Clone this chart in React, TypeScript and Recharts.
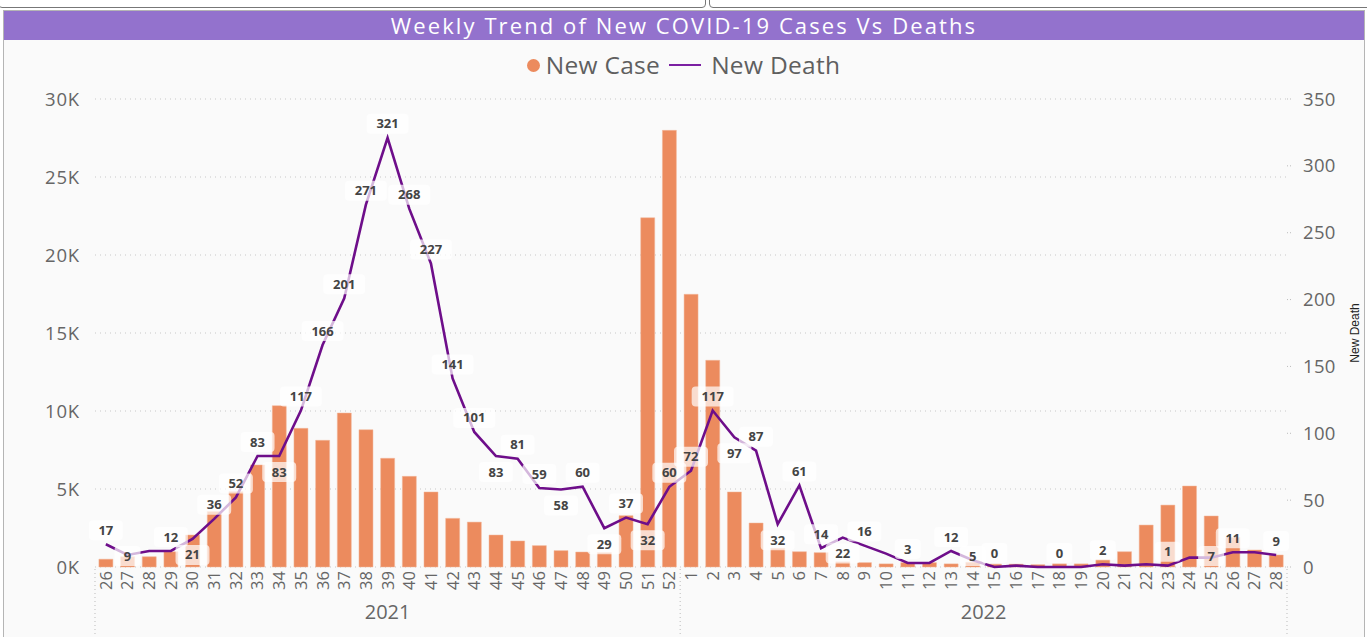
import React from "react";
import { ComposedChart, Bar, Line, XAxis, YAxis, CartesianGrid, LabelList } from "recharts";

const weeks2021 = ["26", "27", "28", "29", "30", "31", "32", "33", "34", "35", "36", "37", "38", "39", "40", "41", "42", "43", "44", "45", "46", "47", "48", "49", "50", "51", "52"];
const weeks2022 = ["1", "2", "3", "4", "5", "6", "7", "8", "9", "10", "11", "12", "13", "14", "15", "16", "17", "18", "19", "20", "21", "22", "23", "24", "25", "26", "27", "28"];

const newCase2021 = [500, 660, 660, 980, 2050, 3550, 4830, 6540, 10340, 8890, 8120, 9870, 8800, 6970, 5810, 4810, 3120, 2880, 2050, 1670, 1370, 1050, 960, 920, 3290, 22390, 27990];
const newCase2022 = [17480, 13250, 4810, 2820, 1200, 980, 920, 330, 280, 200, 280, 280, 200, 300, 180, 180, 150, 200, 200, 470, 980, 2690, 3970, 5190, 3270, 1900, 1090, 770];

const newDeath2021 = [17, 9, 12, 12, 21, 36, 52, 83, 83, 117, 166, 201, 271, 321, 268, 227, 141, 101, 83, 81, 59, 58, 60, 29, 37, 32, 60];
const newDeath2022 = [72, 117, 97, 87, 32, 61, 14, 22, 16, 10, 3, 3, 12, 5, 0, 1, 0, 0, 0, 2, 1, 2, 1, 7, 7, 11, 11, 9];

// where Power BI put each death label: a = above, b = below, n = hidden
const deathLabelSide2021 = "abnabaaabaaaaaaaaabaabababa";
const deathLabelSide2022 = "aababaabananabannanannanbana";

const caseTicks = [0, 5000, 10000, 15000, 20000, 25000, 30000];
const deathTicks = [0, 50, 100, 150, 200, 250, 300, 350];

const data = [
  ...weeks2021.map((w, i) => ({ key: `2021-${w}`, week: w, year: "2021", newCase: newCase2021[i], newDeath: newDeath2021[i] })),
  ...weeks2022.map((w, i) => ({ key: `2022-${w}`, week: w, year: "2022", newCase: newCase2022[i], newDeath: newDeath2022[i] })),
];
const labelSide = (deathLabelSide2021 + deathLabelSide2022).split("");

const W = 1367;
const H = 637;
const M = { top: 99, right: 20, left: 35, bottom: 0 };
const AXIS_W = 60;
const X_AXIS_H = 36 + 34;
const PLOT_BOTTOM = H - M.bottom - X_AXIS_H;
const BAND = (W - M.left - M.right - AXIS_W * 2) / data.length;

const FONT = "'Open Sans', 'Noto Sans', sans-serif";
const GREY = "#666";

const WeekTick = (props: any) => {
  const { x, y, payload } = props;
  const label = data[payload.index]?.week ?? "";
  return (
    <text x={x} y={y - 4} transform={`rotate(-90 ${x} ${y - 4})`} textAnchor="end" dy="0.36em" fontSize={16.5} fill={GREY} fontFamily={FONT}>
      {label}
    </text>
  );
};

const YearTick = (props: any) => {
  const { x, y, payload } = props;
  const i = payload.index;
  const yr = data[i].year;
  const first = data.findIndex((d) => d.year === yr);
  const count = data.filter((d) => d.year === yr).length;
  const parts: React.ReactNode[] = [];
  if (i === first) {
    parts.push(<line key="l" x1={x - BAND / 2} x2={x - BAND / 2} y1={y - 42} y2={y + 30} stroke="#bbb" strokeDasharray="1 3" />);
    parts.push(
      <text key="t" x={x + ((count - 1) / 2) * BAND} y={y + 1} textAnchor="middle" dy="0.35em" fontSize={20} fill={GREY} fontFamily={FONT}>
        {yr}
      </text>
    );
  }
  if (i === data.length - 1) {
    parts.push(<line key="r" x1={x + BAND / 2} x2={x + BAND / 2} y1={y - 42} y2={y + 30} stroke="#bbb" strokeDasharray="1 3" />);
  }
  return <g>{parts}</g>;
};

const DeathLabel = (props: any) => {
  const { x, y, value, index } = props;
  const side = labelSide[index];
  if (side === "n" || x == null) return null;
  const txt = String(value);
  const cy = side === "a" ? y - 14 : Math.min(y + 16, PLOT_BOTTOM - 11);
  const w = txt.length * 8 + 18;
  return (
    <g>
      <rect x={x - w / 2} y={cy - 10} width={w} height={20} rx={4} fill="#fff" fillOpacity={0.7} />
      <text x={x} y={cy} textAnchor="middle" dy="0.35em" fontSize={13} fontWeight={700} fill="#444" fontFamily={FONT}>
        {txt}
      </text>
    </g>
  );
};

const DeathAxisLabel = (props: any) => {
  const vb = props.viewBox || {};
  const x = vb.x + vb.width + 8;
  const y = vb.y + vb.height / 2;
  return (
    <text x={x} y={y} transform={`rotate(-90 ${x} ${y})`} textAnchor="middle" dy="0.35em" fontSize={12} fill="#222" fontFamily="'Liberation Sans', Arial, sans-serif">
      New Death
    </text>
  );
};

export default function App() {
  return (
    <div style={{ position: "absolute", left: 0, top: 0, width: W, height: H, overflow: "hidden", background: "#fff", fontFamily: FONT }}>
      <div style={{ position: "absolute", left: -2, top: -6, width: 706, height: 12, border: "1px solid #777", borderRadius: 4, background: "#fff" }} />
      <div style={{ position: "absolute", left: 709, top: -6, width: 662, height: 12, border: "1px solid #777", borderRadius: 4, background: "#fff" }} />
      <div style={{ position: "absolute", left: 3, top: 10, width: 1360, height: 640, border: "1px solid #b5b5b5", background: "#fafafa" }} />
      <div
        style={{
          position: "absolute", left: 4, top: 11, width: 1360, height: 29, background: "#9372CD",
          color: "#fff", fontSize: 22, lineHeight: "29px", textAlign: "center", letterSpacing: 2.1,
        }}
      >
        Weekly Trend of New COVID-19 Cases Vs Deaths
      </div>
      <div style={{ position: "absolute", left: 0, top: 50, width: W, display: "flex", justifyContent: "center", alignItems: "center", fontSize: 24.5, color: "#5f5f5f", lineHeight: "30px", letterSpacing: 0.3 }}>
        <span style={{ display: "inline-block", width: 13, height: 13, borderRadius: 7, background: "#EC8B5E", marginRight: 6 }} />
        <span>New Case</span>
        <span style={{ display: "inline-block", width: 32, height: 2, background: "#7B1FA2", margin: "0 10px 0 9px" }} />
        <span>New Death</span>
      </div>
      <div style={{ position: "absolute", left: 0, top: 0 }}>
        <ComposedChart width={W} height={H} data={data} margin={M} barCategoryGap="18%">
          <CartesianGrid yAxisId="case" vertical={false} stroke="#c8c8c8" strokeDasharray="1 4" />
          <XAxis xAxisId="week" dataKey="key" interval={0} height={36} axisLine={false} tickLine={false} tick={<WeekTick />} />
          <XAxis xAxisId="year" dataKey="key" interval={0} height={34} axisLine={false} tickLine={false} tick={<YearTick />} />
          <YAxis
            yAxisId="case" orientation="left" width={AXIS_W} domain={[0, 30000]} ticks={caseTicks}
            tickFormatter={(v: number) => `${v / 1000}K`} axisLine={false} tickLine={false} tickSize={0} tickMargin={15}
            tick={{ fontSize: 18.5, fill: GREY, fontFamily: FONT, letterSpacing: 0.8 }}
          />
          <YAxis
            yAxisId="death" orientation="right" width={AXIS_W} domain={[0, 350]} ticks={deathTicks}
            axisLine={false} tickSize={4} tickLine={{ stroke: "#bbb", strokeDasharray: "1 2" }} tickMargin={12}
            tick={{ fontSize: 18.5, fill: GREY, fontFamily: FONT, textAnchor: "start", letterSpacing: 0.3 }}
            label={<DeathAxisLabel />}
          />
          <Bar xAxisId="week" yAxisId="case" dataKey="newCase" fill="#EC8B5E" stroke="#f3b99c" strokeWidth={0.5} isAnimationActive={false} />
          <Line
            xAxisId="week" yAxisId="death" type="linear" dataKey="newDeath" stroke="#6E0E8A" strokeWidth={2.6}
            dot={false} activeDot={false} isAnimationActive={false}
          >
            <LabelList dataKey="newDeath" content={<DeathLabel />} />
          </Line>
        </ComposedChart>
      </div>
    </div>
  );
}
